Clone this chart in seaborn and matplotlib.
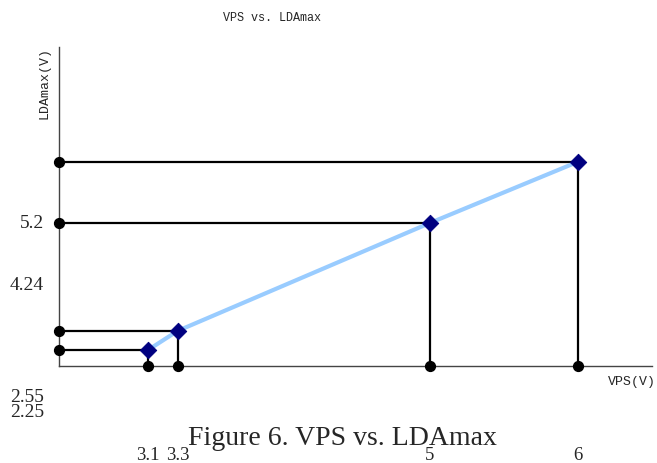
import numpy as np
import pandas as pd
import matplotlib.pyplot as plt
import matplotlib.transforms as mtransforms
import seaborn as sns

# values
vps = [3.1, 3.3, 5, 6]
ldamax = [2.25, 2.55, 4.24, 5.2]
x_tick_labels = ["3.1", "3.3", "5", "6"]
y_tick_labels = ["5.2", "4.24", "2.55", "2.25"]


def make_plot():
    df = pd.DataFrame({"VPS": vps, "LDAmax": ldamax})

    sns.set_style("white")
    fig = plt.figure(figsize=(6.57, 4.64), dpi=100)
    W, H = 657, 464
    ax = fig.add_axes([59 / W, 1 - 367 / H, 593 / W, 319 / H])
    ax.set_xlim(2.5, 6.5)
    ax.set_ylim(2.0, 7.0)

    # guide lines from each point to the axes
    x0, y0 = 2.5, 2.0
    ax.hlines(df["LDAmax"], x0, df["VPS"], color="black", lw=1.6, zorder=2)
    ax.vlines(df["VPS"], y0, df["LDAmax"], color="black", lw=1.6, zorder=2)
    ax.scatter([x0] * len(df), df["LDAmax"], s=50, color="black", zorder=3, clip_on=False)
    ax.scatter(df["VPS"], [y0] * len(df), s=50, color="black", zorder=3, clip_on=False)

    # curve and markers
    sns.lineplot(data=df, x="VPS", y="LDAmax", ax=ax, color="#99ccff", lw=3, zorder=4)
    sns.scatterplot(data=df, x="VPS", y="LDAmax", ax=ax, marker="D", s=70,
                    color="#000080", edgecolor="#000080", zorder=5)

    sns.despine(ax=ax)
    for side in ["left", "bottom"]:
        ax.spines[side].set_color("#444444")
        ax.spines[side].set_linewidth(1.0)
    ax.set_xticks([])
    ax.set_yticks([])
    ax.set_xlabel("")
    ax.set_ylabel("")

    mono = "Liberation Mono"
    serif = "Liberation Serif"

    fig.text(272 / W, 1 - 18 / H, "VPS vs. LDAmax", family=mono, fontsize=8.5,
             ha="center", va="center")
    fig.text(45 / W, 1 - 83 / H, "LDAmax(V)", family=mono, fontsize=9.5,
             rotation=90, ha="center", va="center")
    fig.text(632 / W, 1 - 382 / H, "VPS(V)", family=mono, fontsize=9.5,
             ha="center", va="center")

    # misplaced value labels as they appear in the figure
    y_label_pos = [224, 285, 397, 413]
    for lab, py in zip(y_tick_labels, y_label_pos):
        fig.text(44 / W, 1 - py / H, lab, family=serif, fontsize=14,
                 ha="right", va="center")

    trans = mtransforms.blended_transform_factory(ax.transData, fig.transFigure)
    for lab, xv in zip(x_tick_labels, vps):
        ax.text(xv, 1 - 456 / H, lab, family=serif, fontsize=13.5,
                ha="center", va="center", transform=trans)

    fig.text(342 / W, 1 - 439 / H, "Figure 6. VPS vs. LDAmax", family=serif,
             fontsize=20, ha="center", va="center")

    fig.savefig("out.png", dpi=100)


make_plot()
